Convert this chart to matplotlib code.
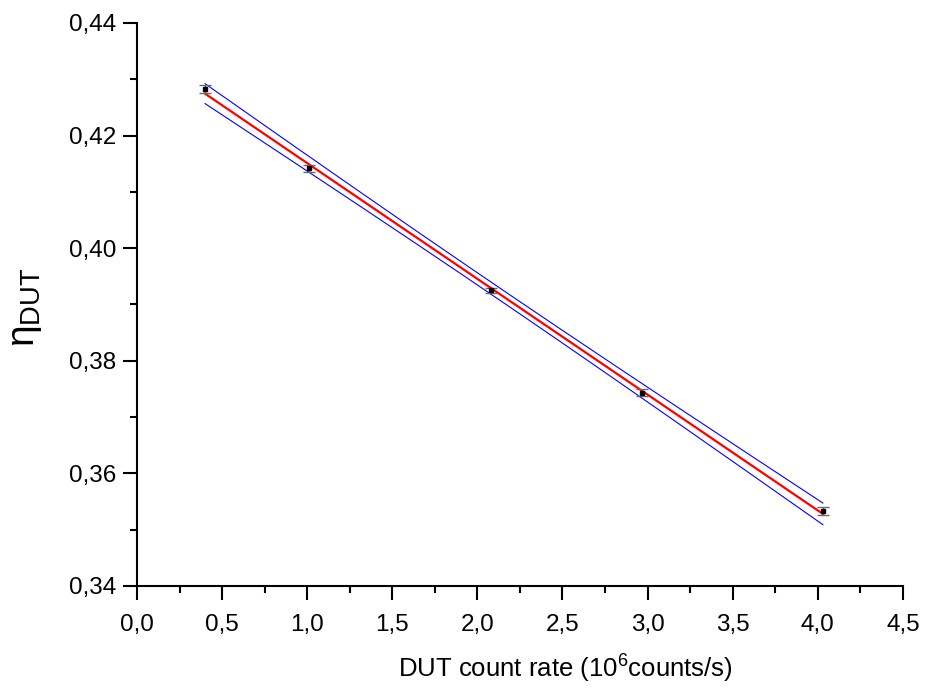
import numpy as np
import matplotlib.pyplot as plt
from matplotlib.ticker import MultipleLocator, FuncFormatter

plt.rcParams['font.family'] = ['Liberation Sans', 'DejaVu Sans']
plt.rcParams['mathtext.fontset'] = 'custom'
plt.rcParams['mathtext.rm'] = 'Liberation Sans'
plt.rcParams['mathtext.it'] = 'Liberation Sans:italic'

# measured efficiency vs DUT count rate
rate = np.array([0.40, 1.01, 2.08, 2.97, 4.03])
eta = np.array([0.4283, 0.4142, 0.3925, 0.3743, 0.3533])
eta_err = np.array([0.0007, 0.0006, 0.0005, 0.0006, 0.0007])

# linear fit + 95% confidence band
slope, icpt = np.polyfit(rate, eta, 1)
xf = np.linspace(rate.min(), rate.max(), 200)
yf = slope * xf + icpt
n = len(rate)
resid = eta - (slope * rate + icpt)
s = np.sqrt(np.sum(resid**2) / (n - 2))
t = 3.182
sxx = np.sum((rate - rate.mean())**2)
band = t * s * np.sqrt(1 / n + (xf - rate.mean())**2 / sxx)

fig = plt.figure(figsize=(9.26, 6.95), dpi=100)
ax = fig.add_axes([0.148, 0.157, 0.827, 0.810])

ax.plot(xf, yf + band, color='blue', lw=0.8)
ax.plot(xf, yf - band, color='blue', lw=0.8)
ax.plot(xf, yf, color='red', lw=1.6)
ax.errorbar(rate, eta, yerr=eta_err, fmt='s', color='black', ms=3.5,
            ecolor='dimgray', elinewidth=1, capsize=4, capthick=1)

ax.set_xlim(0, 4.5)
ax.set_ylim(0.34, 0.44)
ax.xaxis.set_major_locator(MultipleLocator(0.5))
ax.xaxis.set_minor_locator(MultipleLocator(0.25))
ax.yaxis.set_major_locator(MultipleLocator(0.02))
ax.yaxis.set_minor_locator(MultipleLocator(0.01))
ax.xaxis.set_major_formatter(FuncFormatter(lambda v, p: f"{v:.1f}".replace('.', ',')))
ax.yaxis.set_major_formatter(FuncFormatter(lambda v, p: f"{v:.2f}".replace('.', ',')))

for sp in ['top', 'right']:
    ax.spines[sp].set_visible(False)
for sp in ['left', 'bottom']:
    ax.spines[sp].set_linewidth(1.5)
ax.tick_params(which='major', direction='out', length=10, width=1.5, labelsize=17.5, pad=5)
ax.tick_params(axis='x', which='major', pad=10)
ax.tick_params(which='minor', direction='out', length=5, width=1.5)

ax.set_xlabel(r"DUT count rate (10$^{\mathrm{6}}$counts/s)", fontsize=18.5)
ax.xaxis.set_label_coords(0.559, -0.118)
ax.set_ylabel(r"$\mathrm{\eta}_{\mathrm{DUT}}$", fontsize=28)
ax.yaxis.set_label_coords(-0.121, 0.495)

plt.savefig("out.png", dpi=100)
